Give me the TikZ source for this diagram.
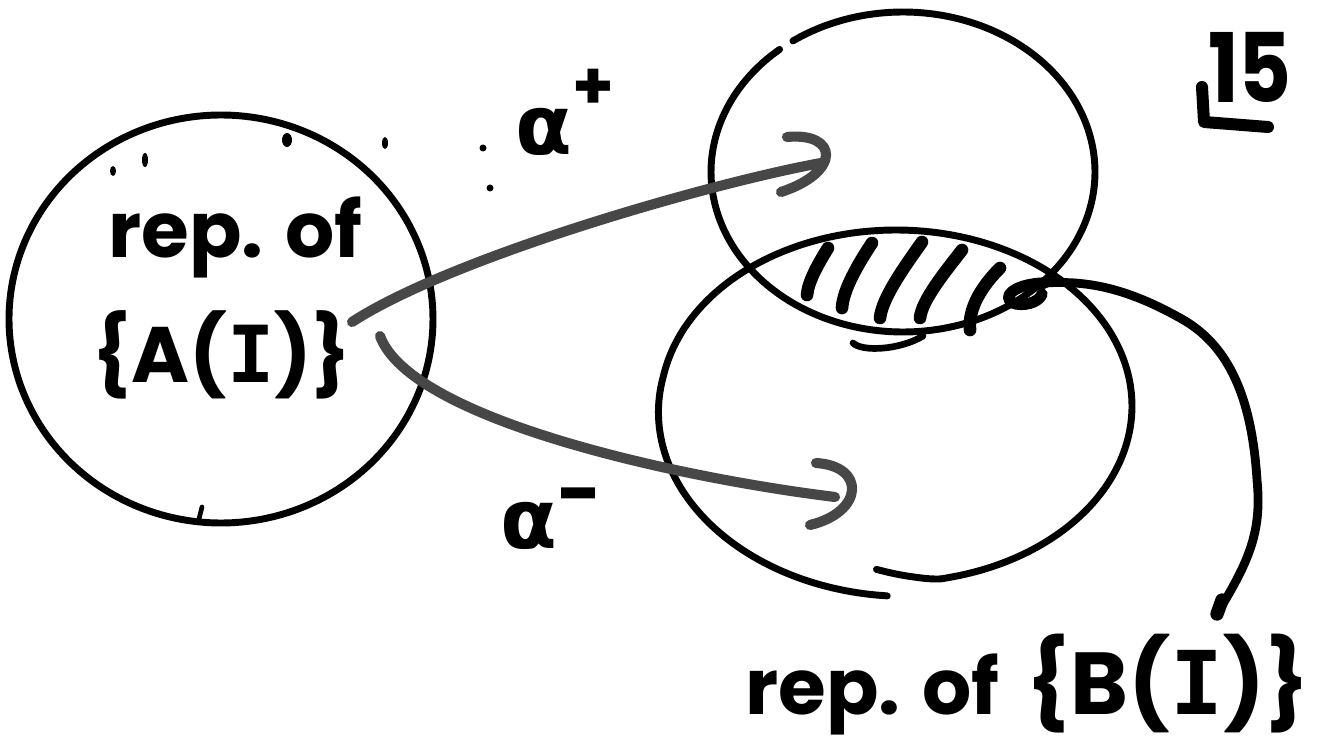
\documentclass[tikz,border=0pt]{standalone}
\usepackage{fontspec}
\setmainfont{Poppins}
\newfontfamily\greekfont{DejaVu Sans}
\newfontfamily\serifI{DejaVu Sans Mono}
\begin{document}
\begin{tikzpicture}[x=0.75pt,y=-0.75pt,line cap=round,line join=round,
  declare function={kk(\t)=-12*max(0,(15-\t)/15)+14*max(0,(\t-265)/98);},
  ring/.style={line width=5.2pt,black},
  arrowline/.style={line width=7.6pt,black!72},
  hatchline/.style={line width=9.5pt,black},
  link/.style={line width=6.6pt,black},
  lbl/.style={inner sep=0pt,anchor=base west},
  speck/.style={fill=black,draw=none}]
\useasboundingbox (0,0) rectangle (1325,748);
\fill[white] (0,0) rectangle (1325,748);

% left circle
\draw[ring] plot[domain=0:360,samples=121,smooth] ({221+212*cos(\x)},{319+204*sin(\x)});
\draw[ring,line width=3.5pt] (199,519) -- (202,507);

% top right circle (with small gap)
\draw[ring] plot[domain=-125:230,samples=121,smooth] ({903+192*cos(\x)},{172+160*sin(\x)});

% lower right ellipse (open, spiralling)
\draw[ring] plot[domain=0:363,samples=140,smooth] ({896+(236+kk(\x))*cos(95-\x)},{406+(176+kk(\x))*sin(95-\x)});

% hatching
\draw[hatchline] (828,248) .. controls (818,264) and (808,282) .. (807,295);
\draw[hatchline] (872,243) .. controls (858,264) and (843,290) .. (842,308);
\draw[hatchline] (922,242) .. controls (905,266) and (882,298) .. (880,318);
\draw[hatchline] (962,250) .. controls (945,272) and (922,300) .. (920,318);
\draw[hatchline] (1000,268) .. controls (982,286) and (968,308) .. (970,330);
\draw[ring,line width=5pt] (853,343) .. controls (862,352) and (900,350) .. (923,336);

% labels
\node[lbl,font=\bfseries\fontsize{58}{60}\selectfont] (repA) at (108,258) {rep. of};
\node[lbl,font=\bfseries\fontsize{59}{61}\selectfont] (setA) at (92,383) {\{A({\serifI I})\}};
\node[lbl,font=\greekfont\bfseries\fontsize{62}{64}\selectfont] (aplus) at (515,155) {α\raisebox{34pt}{\normalfont\bfseries\fontsize{50}{52}\selectfont +}};
\node[lbl,font=\greekfont\bfseries\fontsize{62}{64}\selectfont] (aminus) at (500,548) {α\raisebox{21pt}{\normalfont\bfseries\fontsize{58}{60}\selectfont -}};
\node[lbl,font=\bfseries\fontsize{58}{60}\selectfont] (repB) at (745,714) {rep. of\hspace{0.35em}{\fontsize{66}{68}\selectfont\{B({\serifI I})\}}};
\node[lbl,font=\bfseries\fontsize{72}{74}\selectfont,xscale=0.85] (page) at (1208,103) {15};
\draw[line width=9pt] (1202,87) -- (1204,122) -- (1268,127);

% arrows alpha+ and alpha-
\coordinate (apS) at (352,322);
\coordinate (apE) at (821,163);
\coordinate (amS) at (380,336);
\coordinate (amE) at (835,497);
\draw[arrowline] (apS) .. controls +(100,-65) and +(-110,20) .. (apE);
\draw[arrowline] (787,137) .. controls (838,132) and (842,172) .. (781,192);
\draw[arrowline] (amS) .. controls +(31,84) and +(-155,-19) .. (amE);
\draw[arrowline] (816,463) .. controls (866,466) and (864,512) .. (810,525);

% connector from label B to hatched region
\coordinate (bS) at (1218,612);
\coordinate (b1) at (1257,480);
\coordinate (b2) at (1180,318);
\coordinate (bE) at (1045,283);
\draw[link] (bS) .. controls (1250,560) and (1262,530) .. (b1)
  .. controls (1252,400) and (1230,345) .. (b2)
  .. controls (1130,290) and (1090,280) .. (bE);
\draw[hatchline,line width=8.5pt] (bE) .. controls (1010,284) and (1000,300) .. (1016,304)
  .. controls (1030,306) and (1040,300) .. (1042,294);
\draw[line width=10pt] (1222,600) -- (1217,614);

% specks
\fill[speck] (483,148) circle (3.5);
\fill[speck] (490,188) circle (3.5);
\fill[speck] (287,140) ellipse (5 and 7);
\fill[speck] (145,160) ellipse (3 and 7);
\fill[speck] (113,171) ellipse (3 and 5);
\fill[speck] (385,143) ellipse (3 and 6);
\end{tikzpicture}
\end{document}
